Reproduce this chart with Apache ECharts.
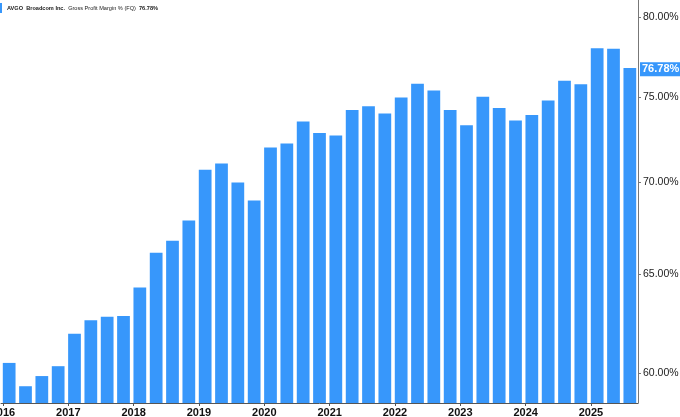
<!DOCTYPE html>
<html>
<head>
<meta charset="utf-8">
<script src="https://cdn.jsdelivr.net/npm/echarts@6/dist/echarts.min.js"></script>
<style>html,body{margin:0;padding:0;background:#fff}#c{width:680px;height:417px}</style>
</head>
<body>
<div id="c"></div>
<script>
const quarters = [
  '2016 Q1','2016 Q2','2016 Q3','2016 Q4',
  '2017 Q1','2017 Q2','2017 Q3','2017 Q4',
  '2018 Q1','2018 Q2','2018 Q3','2018 Q4',
  '2019 Q1','2019 Q2','2019 Q3','2019 Q4',
  '2020 Q1','2020 Q2','2020 Q3','2020 Q4',
  '2021 Q1','2021 Q2','2021 Q3','2021 Q4',
  '2022 Q1','2022 Q2','2022 Q3','2022 Q4',
  '2023 Q1','2023 Q2','2023 Q3','2023 Q4',
  '2024 Q1','2024 Q2','2024 Q3','2024 Q4',
  '2025 Q1','2025 Q2','2025 Q3'
];
const grossMargin = [
  60.49, 59.36, 59.85, 60.33,
  61.94, 62.61, 62.79, 62.83,
  64.30, 66.13, 66.77, 67.88,
  70.72, 71.08, 70.00, 68.99,
  72.01, 72.24, 73.54, 72.85,
  72.71, 74.23, 74.45, 74.02,
  74.98, 75.81, 75.41, 74.22,
  73.32, 75.02, 74.35, 73.60,
  73.92, 74.80, 76.00, 75.78,
  78.02, 77.99, 76.78
];
const yTicks = [60, 65, 70, 75, 80];
const yearLabels = ['2016','2017','2018','2019','2020','2021','2022','2023','2024','2025'];
const yMin = 58.56, yMax = 81.13;

const blue = '#3797fb';
const last = grossMargin[grossMargin.length - 1];
const chart = echarts.init(document.getElementById('c'), null, {renderer: 'canvas'});
const font = '"Liberation Sans", Arial, sans-serif';

chart.setOption({
  animation: false,
  grid: {left: 1, right: 42, top: 0, bottom: 14, containLabel: false, outerBoundsMode: 'none'},
  legend: {
    left: 0, top: 3, padding: [0, 0],
    icon: 'rect', itemWidth: 2, itemHeight: 10,
    data: ['Gross Profit Margin % (FQ)'],
    formatter: () => '{b|AVGO}  {b|Broadcom Inc.}  {n|Gross Profit Margin % (FQ)}  {b|' + last.toFixed(2) + '%}',
    textStyle: {
      fontFamily: font, fontSize: 5.6, color: '#222',
      rich: {
        b: {fontFamily: font, fontSize: 5.6, fontWeight: 'bold', color: '#222'},
        n: {fontFamily: font, fontSize: 5.6, color: '#222'}
      }
    }
  },
  xAxis: [
    {
      type: 'category', data: quarters, position: 'top', show: false,
      boundaryGap: true
    },
    {
      type: 'value', position: 'bottom', min: -0.12, max: 38.88,
      splitLine: {show: false},
      axisLine: {show: true, onZero: false, lineStyle: {color: '#555', width: 1}},
      axisTick: {show: true, length: 3, customValues: yearLabels.map((y, i) => i * 4), lineStyle: {color: '#555'}},
      axisLabel: {
        customValues: yearLabels.map((y, i) => i * 4),
        formatter: v => yearLabels[Math.round(v / 4)],
        fontFamily: font, fontSize: 11, fontWeight: 'bold', color: '#111', margin: 4,
        hideOverlap: false
      }
    }
  ],
  yAxis: {
    type: 'value', position: 'right',
    min: Math.log(yMin), max: Math.log(yMax),
    splitLine: {show: false},
    axisLine: {show: true, onZero: false, lineStyle: {color: '#777', width: 1}},
    axisTick: {show: true, inside: false, length: 3, customValues: yTicks.map(Math.log), lineStyle: {color: '#777'}},
    axisLabel: {
      customValues: yTicks.map(Math.log),
      formatter: v => Math.exp(v).toFixed(2) + '%',
      fontFamily: font, fontSize: 10.5, color: '#222', margin: 5
    }
  },
  series: [{
    name: 'Gross Profit Margin % (FQ)',
    type: 'bar', xAxisIndex: 0,
    data: grossMargin.map(v => Math.log(v)),
    barWidth: '78%',
    itemStyle: {color: blue},
    markLine: {
      silent: true, symbol: 'none',
      lineStyle: {color: 'rgba(0,0,0,0)', width: 0},
      data: [{yAxis: Math.log(last)}],
      label: {
        show: true, position: 'end', distance: 2,
        formatter: () => last.toFixed(2) + '%',
        backgroundColor: blue, color: '#fff', opacity: 1,
        fontFamily: font, fontSize: 11, fontWeight: 'bold',
        padding: [2, 2, 1, 2]
      }
    }
  }]
});
</script>
</body>
</html>
